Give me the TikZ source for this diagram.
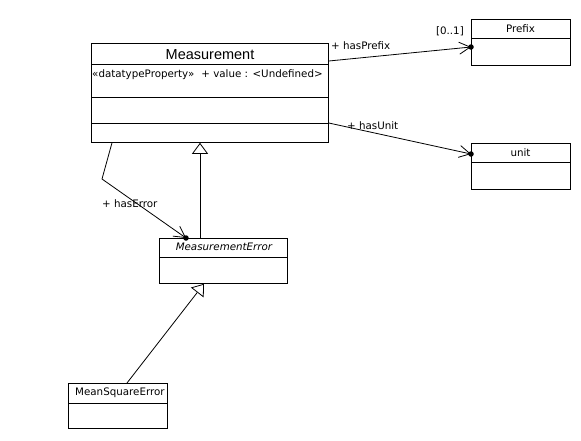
\documentclass[tikz,border=0pt]{standalone}
\usepackage{fontspec}
\setmainfont{DejaVu Sans}
\newfontfamily\titlefont{Liberation Sans}
\usetikzlibrary{arrows.meta}
\begin{document}
\begin{tikzpicture}[x=1pt,y=-1pt,
  classbox/.style={draw,line width=0.8pt,rectangle,anchor=north west,inner sep=0pt},
  lbl/.style={font=\fontsize{10.3}{12}\selectfont,inner sep=0pt},
  assoc/.style={line width=0.8pt,-{Straight Barb[length=11pt,width=12pt,line width=0.8pt]}},
  gen/.style={line width=0.8pt,-{Triangle[open,length=11pt,width=16pt,line width=0.8pt,fill=white]}},
  enddot/.style={circle,fill=black,inner sep=0pt,minimum size=5.5pt}]
\useasboundingbox (0,0) rectangle (581,440);
% classes
\node[classbox,minimum width=237pt,minimum height=99pt] (meas) at (91,43) {};
\draw[line width=0.8pt] (meas.west |- 0,64) -- (meas.east |- 0,64);
\draw[line width=0.8pt] (meas.west |- 0,97) -- (meas.east |- 0,97);
\draw[line width=0.8pt] (meas.west |- 0,123) -- (meas.east |- 0,123);
\node[font=\titlefont\fontsize{14.5}{16}\selectfont,inner sep=0pt] (measT) at (210,55) {Measurement};
\node[font=\fontsize{10.3}{12}\selectfont,inner sep=0pt,anchor=west] (measA) at (92,75) {«datatypeProperty»\hspace{7pt}+ value : <Undefined>};

\node[classbox,minimum width=99pt,minimum height=46pt] (prefix) at (471,19) {};
\draw[line width=0.8pt] (prefix.west |- 0,38) -- (prefix.east |- 0,38);
\node[lbl] (prefixT) at (520.5,29) {Prefix};

\node[classbox,minimum width=99pt,minimum height=46pt] (unit) at (471,143) {};
\draw[line width=0.8pt] (unit.west |- 0,162) -- (unit.east |- 0,162);
\node[lbl] (unitT) at (520.5,153) {unit};

\node[classbox,minimum width=128pt,minimum height=45pt] (merr) at (159,238) {};
\draw[line width=0.8pt] (merr.west |- 0,257) -- (merr.east |- 0,257);
\node[lbl,font=\fontsize{10.3}{12}\selectfont\itshape] (merrT) at (224,247) {MeasurementError};

\node[classbox,minimum width=99pt,minimum height=45pt] (mse) at (68,383) {};
\draw[line width=0.8pt] (mse.west |- 0,403) -- (mse.east |- 0,403);
\node[lbl,anchor=west] (mseT) at (75,393) {MeanSquareError};

% associations
\coordinate (pfxEnd) at (prefix.west |- 0,47);
\draw[assoc] (meas.east |- 0,61) -- (pfxEnd);
\node[enddot] (pfxDot) at (pfxEnd) {};
\node[lbl,anchor=west] (hasPrefix) at (331,46) {+ hasPrefix};
\node[lbl,anchor=east] (mult) at (464,31) {[0..1]};

\coordinate (unitEnd) at (unit.west |- 0,154);
\draw[assoc] (meas.east |- 0,123) -- (unitEnd);
\node[enddot] (unitDot) at (unitEnd) {};
\node[lbl,anchor=west] (hasUnit) at (347,126) {+ hasUnit};

\coordinate (errBend) at (102,179);
\coordinate (errEnd) at (merr.north west -| 186,0);
\draw[assoc] (meas.south west -| 112,0) -- (errBend) -- (errEnd);
\node[enddot] (errDot) at (errEnd) {};
\node[lbl,anchor=west] (hasError) at (102,204) {+ hasError};

% generalizations
\draw[gen] (merr.north -| 200,0) -- (meas.south -| 200,0);
\draw[gen] (mse.north -| 127,0) -- (merr.south -| 204,0);
\end{tikzpicture}
\end{document}
